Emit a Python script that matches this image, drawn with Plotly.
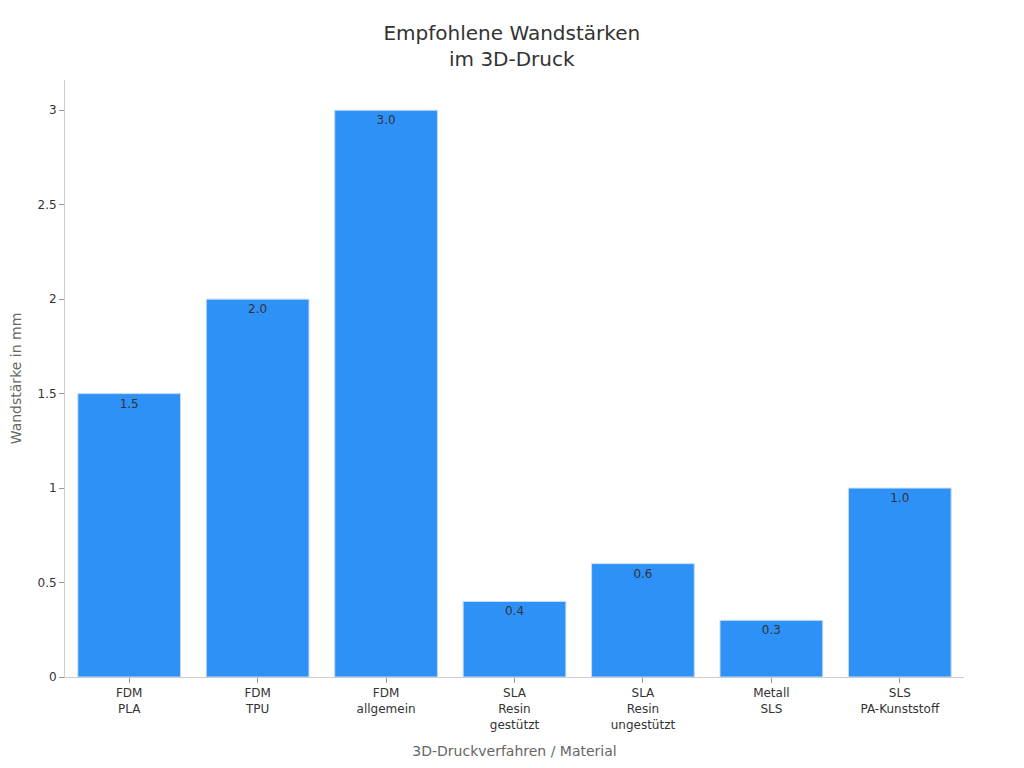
import plotly.graph_objects as go

categories = ["FDM<br>PLA", "FDM<br>TPU", "FDM<br>allgemein", "SLA<br>Resin<br>gestützt",
              "SLA<br>Resin<br>ungestützt", "Metall<br>SLS", "SLS<br>PA-Kunststoff"]
values = [1.5, 2.0, 3.0, 0.4, 0.6, 0.3, 1.0]
labels = ["1.5", "2.0", "3.0", "0.4", "0.6", "0.3", "1.0"]

fig = go.Figure(go.Bar(
    x=categories, y=values, text=labels, textposition="inside", insidetextanchor="end",
    textfont=dict(family="DejaVu Sans", size=12, color="#333333"),
    marker=dict(color="#2E91F8", line=dict(color="#C8DCF0", width=1)),
    width=0.8,
))
fig.update_layout(
    width=1024, height=768,
    margin=dict(l=57, r=68, t=72, b=99),
    paper_bgcolor="white", plot_bgcolor="white",
    font=dict(family="DejaVu Sans", size=12, color="#333333"),
    title=dict(text="Empfohlene Wandstärken<br>im 3D-Druck", x=0.492, xanchor="center", y=0.958,
               font=dict(size=20, color="#333333")),
    showlegend=False,
    xaxis=dict(title=dict(text="3D-Druckverfahren / Material", font=dict(size=14, color="#666666"), standoff=15),
               showline=True, linecolor="#cccccc", ticks="outside", tickcolor="#999999", ticklen=5,
               tickfont=dict(size=12, color="#333333")),
    yaxis=dict(title=dict(text="Wandstärke in mm", font=dict(size=14, color="#666666"), standoff=18),
               automargin=False,
               range=[0, 3.16], showline=True, linecolor="#cccccc", ticks="outside", tickcolor="#999999",
               ticklen=5, showgrid=False, zeroline=False, dtick=0.5, tickfont=dict(size=12, color="#333333")),
)
fig.write_html("out.html")
